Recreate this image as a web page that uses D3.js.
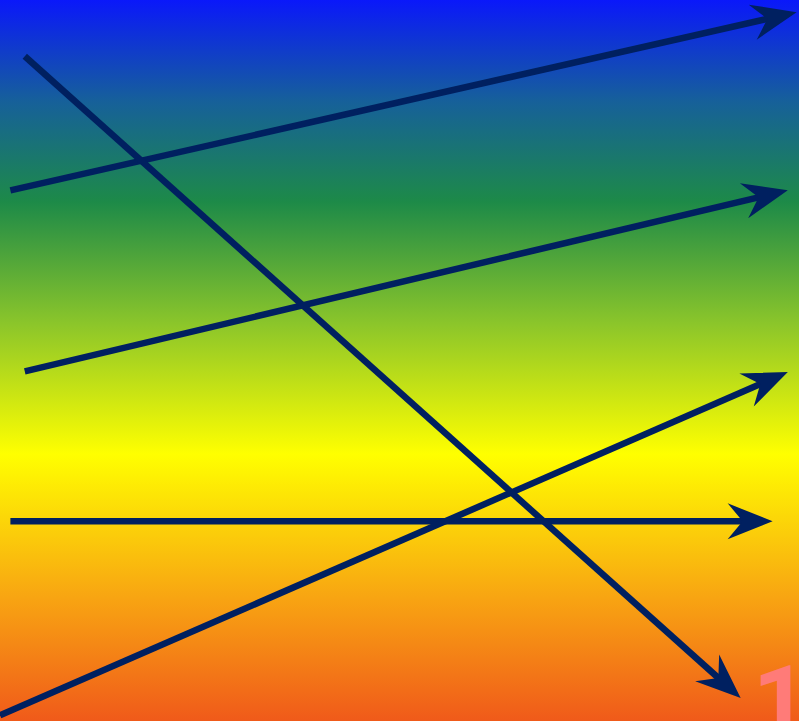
<!DOCTYPE html>
<html>
<head>
<meta charset="utf-8">
<script src="https://d3js.org/d3.v7.min.js"></script>
<style>
  html, body { margin: 0; padding: 0; background: #fff; }
  svg { display: block; }
</style>
</head>
<body>
<script>
// les flèches : départ (x0,y0) -> arrivée (x1,y1), en unités du graphique
var arrowIds = ["a", "b", "c", "d", "e"];
var startX = [1.3, 3.1, 1.3, 0, 3.1];
var startY = [26.4, 51.5, 72.3, 99.2, 7.8];
var endX = [99.7, 98.6, 96.7, 98.6, 92.7];
var endY = [1.7, 26.4, 72.3, 51.6, 96.8];
var gradStops = [0, 0.14, 0.28, 0.45, 0.63, 0.83, 1];
var gradColors = ["#0a18fa", "#16609a", "#1d8a48", "#8cc62a", "#ffff00", "#f8a412", "#f05a1a"];
var cornerLabel = "1";

var width = 799, height = 721;

var x = d3.scaleLinear().domain([0, 100]).range([0, width]);
var y = d3.scaleLinear().domain([0, 100]).range([0, height]);

var svg = d3.select("body").append("svg")
    .attr("width", width)
    .attr("height", height);

// dégradé vertical du fond
var grad = svg.append("defs").append("linearGradient")
    .attr("id", "fond")
    .attr("x1", 0).attr("y1", 0)
    .attr("x2", 0).attr("y2", 1);

grad.selectAll("stop")
    .data(gradStops)
    .enter().append("stop")
    .attr("offset", function(d) { return d; })
    .attr("stop-color", function(d, i) { return gradColors[i]; });

svg.append("rect")
    .attr("width", width)
    .attr("height", height)
    .attr("fill", "url(#fond)");

var couleur = "#002060";
var headLen = 45, headHalf = 18, notch = 30;

var arrows = svg.append("g").selectAll("g")
    .data(arrowIds)
    .enter().append("g");

arrows.each(function(d, i) {
    var g = d3.select(this);
    var x0 = x(startX[i]), y0 = y(startY[i]);
    var x1 = x(endX[i]), y1 = y(endY[i]);
    var ang = Math.atan2(y1 - y0, x1 - x0);
    var len = Math.hypot(x1 - x0, y1 - y0);
    // la ligne s'arrête au creux de la pointe
    g.append("line")
        .attr("x1", x0).attr("y1", y0)
        .attr("x2", x0 + (len - notch + 2) * Math.cos(ang))
        .attr("y2", y0 + (len - notch + 2) * Math.sin(ang))
        .attr("stroke", couleur)
        .attr("stroke-width", 6.5);
    g.append("path")
        .attr("d", "M0,0 L" + (-headLen) + "," + (-headHalf) + " L" + (-notch) + ",0 L" + (-headLen) + "," + headHalf + " Z")
        .attr("transform", "translate(" + x1 + "," + y1 + ") rotate(" + (ang * 180 / Math.PI) + ")")
        .attr("fill", couleur);
});

// le "1" dans le coin en bas à droite (coupé par le bord, comme l'original)
svg.append("text")
    .attr("x", x(94.2))
    .attr("y", y(101.8))
    .attr("font-family", "Roboto, 'DejaVu Sans', sans-serif")
    .attr("font-weight", "bold")
    .attr("font-size", 96)
    .attr("fill", "#ff7b78")
    .text(cornerLabel);
</script>
</body>
</html>
